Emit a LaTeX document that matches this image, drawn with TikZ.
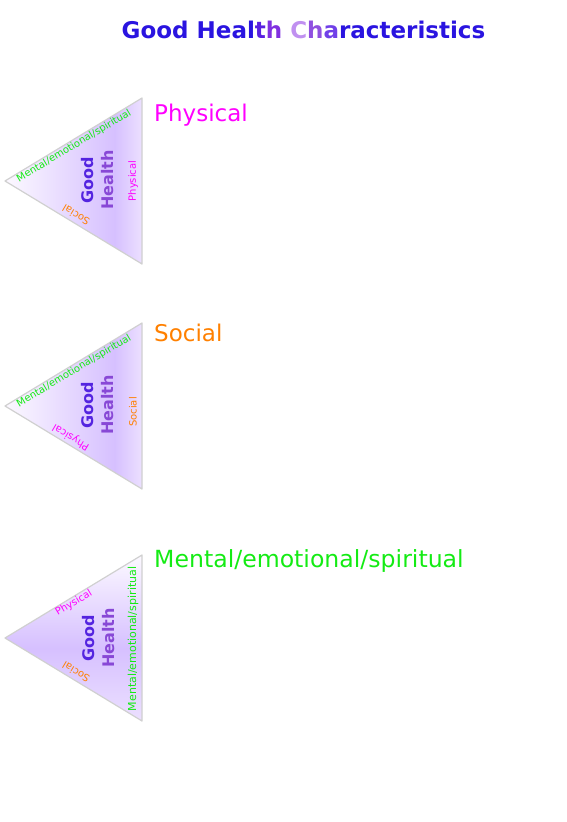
\documentclass[tikz,border=0pt]{standalone}
\usepackage{fontspec}
\setmainfont{DejaVu Sans}
\usetikzlibrary{positioning,calc}
\usepackage{xcolor}
\definecolor{ghblue}{RGB}{42,20,224}
\definecolor{ghgood}{RGB}{84,36,224}
\definecolor{ghhealth}{RGB}{136,72,214}
\definecolor{ghmixa}{RGB}{90,32,224}
\definecolor{ghmixb}{RGB}{128,48,224}
\definecolor{ghmixc}{RGB}{192,144,240}
\definecolor{ghmixd}{RGB}{144,80,224}
\definecolor{ghmixe}{RGB}{112,64,232}
\definecolor{physc}{RGB}{255,0,255}
\definecolor{socc}{RGB}{255,128,0}
\definecolor{mentc}{RGB}{20,235,20}
\definecolor{trilight}{RGB}{252,249,255}
\definecolor{tridark}{RGB}{214,192,255}
\definecolor{triedge}{RGB}{236,224,255}
\definecolor{triline}{RGB}{208,208,208}
\pgfdeclarehorizontalshading{triH}{100bp}{color(0bp)=(trilight); color(25bp)=(trilight);
  color(65bp)=(tridark); color(75bp)=(triedge); color(100bp)=(triedge)}
\pgfdeclareverticalshading{triV}{100bp}{color(0bp)=(triedge); color(25bp)=(triedge);
  color(47bp)=(tridark); color(75bp)=(trilight); color(100bp)=(trilight)}
\tikzset{
	tri/.style={
		draw=triline,
		line width=1.2pt,
		line join=round,
	},
	titletext/.style={
		anchor=base,
		inner sep=0pt,
		text=ghblue,
		font=\bfseries\fontsize{23}{27}\selectfont,
	},
	heading/.style={
		anchor=base west,
		inner sep=0pt,
		font=\fontsize{23}{27}\selectfont,
	},
	edgelabel/.style={
		inner sep=0pt,
		font=\fontsize{10}{12}\selectfont,
	},
	goodhealth/.style={
		rotate=90,
		align=center,
		inner sep=0pt,
		font=\bfseries\fontsize{16}{20}\selectfont,
	},
}
\newcommand{\ghtext}{\textcolor{ghgood}{Good}\\\textcolor{ghhealth}{Health}}

\begin{document}
\begin{tikzpicture}[x=1pt,y=1pt]
\useasboundingbox (0,0) rectangle (567,-822);

\node[titletext] (title) at (303.5,-38) {Good Heal\textcolor{ghmixa}{t}\textcolor{ghmixb}{h}
  \textcolor{ghmixc}{C}\textcolor{ghmixd}{h}\textcolor{ghmixe}{a}racteristics};

% physical
\coordinate (pl) at (5,-181);
\coordinate (pt) at (142,-98);
\coordinate (pb) at (142,-264);
\shade[tri,shading=triH] (pl) -- (pt) -- (pb) -- cycle;
\node[heading,text=physc] (physhead) at (154,-121) {Physical};
\node[edgelabel,text=mentc,rotate=31] (pment) at (74,-146) {Mental/emotional/spiritual};
\node[edgelabel,text=physc,rotate=90] (pphys) at (133,-181) {Physical};
\node[edgelabel,text=socc,rotate=149] (psoc) at (76,-215) {Social};
\node[goodhealth] (pgh) at (98,-180) {\ghtext};

% social
\coordinate (sl) at (5,-406);
\coordinate (st) at (142,-323);
\coordinate (sb) at (142,-489);
\shade[tri,shading=triH] (sl) -- (st) -- (sb) -- cycle;
\node[heading,text=socc] (sochead) at (154,-341) {Social};
\node[edgelabel,text=mentc,rotate=31] (sment) at (74,-371) {Mental/emotional/spiritual};
\node[edgelabel,text=socc,rotate=90] (ssoc) at (133,-412) {Social};
\node[edgelabel,text=physc,rotate=149] (sphys) at (71,-437) {Physical};
\node[goodhealth] (sgh) at (98,-405) {\ghtext};

% mental
\coordinate (ml) at (5,-638);
\coordinate (mt) at (142,-555);
\coordinate (mb) at (142,-721);
\shade[tri,shading=triV] (ml) -- (mt) -- (mb) -- cycle;
\node[heading,text=mentc,font=\fontsize{23.6}{27}\selectfont] (menthead) at (154,-567) {Mental/emotional/spiritual};
\node[edgelabel,text=physc,rotate=31] (mphys) at (74,-603) {Physical};
\node[edgelabel,text=socc,rotate=149] (msoc) at (76,-672) {Social};
\node[edgelabel,text=mentc,rotate=90,font=\fontsize{11}{13}\selectfont] (mment) at (133,-639) {Mental/emotional/spiritual};
\node[goodhealth] (mgh) at (99,-638) {\ghtext};

\end{tikzpicture}
\end{document}
